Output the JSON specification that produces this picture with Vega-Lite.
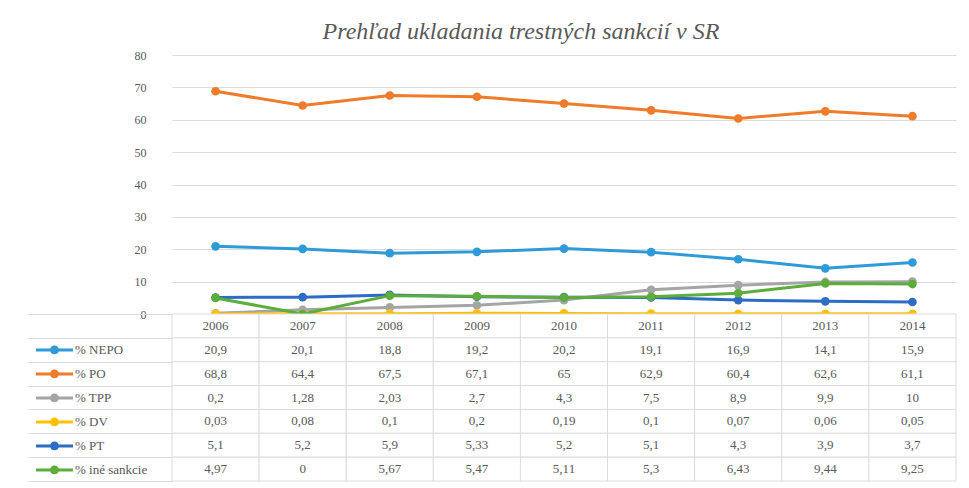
{
  "$schema": "https://vega.github.io/schema/vega-lite/v6.json",
  "padding": {"left": 27, "top": 20, "right": 10, "bottom": 5},
  "background": "white",
  "bounds": "flush",
  "spacing": 0,
  "config": {
    "locale": {"number": {"decimal": ",", "thousands": " ", "grouping": [3], "currency": ["", " €"]}},
    "view": {"stroke": null},
    "font": "Liberation Serif, Times New Roman, serif"
  },
  "datasets": {
    "d": [
      {"s": "% NEPO", "year": "2006", "v": 20.9}, {"s": "% NEPO", "year": "2007", "v": 20.1}, {"s": "% NEPO", "year": "2008", "v": 18.8},
      {"s": "% NEPO", "year": "2009", "v": 19.2}, {"s": "% NEPO", "year": "2010", "v": 20.2}, {"s": "% NEPO", "year": "2011", "v": 19.1},
      {"s": "% NEPO", "year": "2012", "v": 16.9}, {"s": "% NEPO", "year": "2013", "v": 14.1}, {"s": "% NEPO", "year": "2014", "v": 15.9},
      {"s": "% PO", "year": "2006", "v": 68.8}, {"s": "% PO", "year": "2007", "v": 64.4}, {"s": "% PO", "year": "2008", "v": 67.5},
      {"s": "% PO", "year": "2009", "v": 67.1}, {"s": "% PO", "year": "2010", "v": 65}, {"s": "% PO", "year": "2011", "v": 62.9},
      {"s": "% PO", "year": "2012", "v": 60.4}, {"s": "% PO", "year": "2013", "v": 62.6}, {"s": "% PO", "year": "2014", "v": 61.1},
      {"s": "% TPP", "year": "2006", "v": 0.2}, {"s": "% TPP", "year": "2007", "v": 1.28}, {"s": "% TPP", "year": "2008", "v": 2.03},
      {"s": "% TPP", "year": "2009", "v": 2.7}, {"s": "% TPP", "year": "2010", "v": 4.3}, {"s": "% TPP", "year": "2011", "v": 7.5},
      {"s": "% TPP", "year": "2012", "v": 8.9}, {"s": "% TPP", "year": "2013", "v": 9.9}, {"s": "% TPP", "year": "2014", "v": 10},
      {"s": "% DV", "year": "2006", "v": 0.03}, {"s": "% DV", "year": "2007", "v": 0.08}, {"s": "% DV", "year": "2008", "v": 0.1},
      {"s": "% DV", "year": "2009", "v": 0.2}, {"s": "% DV", "year": "2010", "v": 0.19}, {"s": "% DV", "year": "2011", "v": 0.1},
      {"s": "% DV", "year": "2012", "v": 0.07}, {"s": "% DV", "year": "2013", "v": 0.06}, {"s": "% DV", "year": "2014", "v": 0.05},
      {"s": "% PT", "year": "2006", "v": 5.1}, {"s": "% PT", "year": "2007", "v": 5.2}, {"s": "% PT", "year": "2008", "v": 5.9},
      {"s": "% PT", "year": "2009", "v": 5.33}, {"s": "% PT", "year": "2010", "v": 5.2}, {"s": "% PT", "year": "2011", "v": 5.1},
      {"s": "% PT", "year": "2012", "v": 4.3}, {"s": "% PT", "year": "2013", "v": 3.9}, {"s": "% PT", "year": "2014", "v": 3.7},
      {"s": "% iné sankcie", "year": "2006", "v": 4.97}, {"s": "% iné sankcie", "year": "2007", "v": 0}, {"s": "% iné sankcie", "year": "2008", "v": 5.67},
      {"s": "% iné sankcie", "year": "2009", "v": 5.47}, {"s": "% iné sankcie", "year": "2010", "v": 5.11}, {"s": "% iné sankcie", "year": "2011", "v": 5.3},
      {"s": "% iné sankcie", "year": "2012", "v": 6.43}, {"s": "% iné sankcie", "year": "2013", "v": 9.44}, {"s": "% iné sankcie", "year": "2014", "v": 9.25}
    ]
  },
  "resolve": {"scale": {"color": "independent"}, "legend": {"color": "independent"}},
  "vconcat": [
    {
      "width": 784,
      "height": 259,
      "title": {"text": "Prehľad ukladania trestných sankcií v SR", "font": "Liberation Serif, Times New Roman, serif", "fontStyle": "italic", "fontWeight": "normal", "fontSize": 24, "color": "#595959", "anchor": "middle", "dx": -43, "offset": 5},
      "data": {"name": "d"},
      "encoding": {
        "x": {"field": "year", "type": "ordinal", "axis": null},
        "y": {"field": "v", "type": "quantitative", "scale": {"domain": [0, 80], "nice": false},
              "axis": {"title": null, "values": [0, 10, 20, 30, 40, 50, 60, 70, 80], "domain": false, "ticks": false,
                       "grid": true, "gridColor": "#dcdcdc", "gridWidth": 1, "labelFont": "Liberation Serif, Times New Roman, serif", "labelFontSize": 12,
                       "labelColor": "#595959", "labelPadding": 26}},
        "color": {"field": "s", "type": "nominal",
                  "scale": {"domain": ["% NEPO", "% PO", "% TPP", "% DV", "% PT", "% iné sankcie"],
                            "range": ["#2f9ad8", "#ef7b2b", "#a5a5a5", "#ffc000", "#2d6cc4", "#5cad3a"]},
                  "legend": null}
      },
      "layer": [
        {"mark": {"type": "line", "strokeWidth": 3}},
        {"mark": {"type": "point", "filled": true, "size": 75, "opacity": 1}}
      ]
    },
    {
      "width": 784,
      "height": 167,
      "data": {"name": "d"},
      "encoding": {
        "x": {"field": "year", "type": "ordinal", "scale": {"type": "band", "paddingInner": 0, "paddingOuter": 0}, "axis": null},
        "y": {"field": "s", "type": "nominal",
              "scale": {"domain": ["hdr", "% NEPO", "% PO", "% TPP", "% DV", "% PT", "% iné sankcie"], "paddingInner": 0, "paddingOuter": 0},
              "axis": {"title": null, "labels": false, "domain": false, "ticks": true, "tickBand": "extent", "tickSize": 144,
                       "tickColor": "#dcdcdc", "tickWidth": 1, "grid": false}}
      },
      "layer": [
        {
          "transform": [{"filter": "datum.s === '% NEPO'"}],
          "mark": {"type": "rect", "fill": "white", "stroke": "#dcdcdc", "strokeWidth": 1},
          "encoding": {"y": {"datum": "hdr", "type": "nominal"}}
        },
        {
          "mark": {"type": "rect", "fill": "white", "stroke": "#dcdcdc", "strokeWidth": 1}
        },
        {
          "transform": [{"filter": "datum.s === '% NEPO'"}],
          "mark": {"type": "text", "font": "Liberation Serif, Times New Roman, serif", "fontSize": 13, "color": "#595959"},
          "encoding": {"y": {"datum": "hdr", "type": "nominal"}, "text": {"field": "year", "type": "nominal"}}
        },
        {
          "mark": {"type": "text", "font": "Liberation Serif, Times New Roman, serif", "fontSize": 13, "color": "#595959"},
          "encoding": {"text": {"field": "v", "type": "quantitative", "format": "~g"}}
        },
        {
          "mark": {"type": "point", "filled": true, "opacity": 0},
          "encoding": {
            "color": {"field": "s", "type": "nominal",
                      "scale": {"domain": ["hdr", "% NEPO", "% PO", "% TPP", "% DV", "% PT", "% iné sankcie"],
                                "range": ["rgba(0,0,0,0)", "#2f9ad8", "#ef7b2b", "#a5a5a5", "#ffc000", "#2d6cc4", "#5cad3a"]},
                      "legend": {"orient": "left", "offset": -121, "title": null, "padding": 0,
                                 "symbolType": "M-1,-0.08L1,-0.08L1,0.08L-1,0.08Z M0.24,0A0.24,0.24 0 1,1 -0.24,0A0.24,0.24 0 1,1 0.24,0Z",
                                 "symbolSize": 1369, "symbolStrokeWidth": 0, "symbolOpacity": 1,
                                 "clipHeight": 23.857, "rowPadding": 0, "labelOffset": 2,
                                 "labelFont": "Liberation Serif, Times New Roman, serif", "labelFontSize": 13, "labelColor": "#595959",
                                 "labelExpr": "datum.label === 'hdr' ? '' : datum.label",
                                 "encode": {"symbols": {"update": {"opacity": {"value": 1}, "strokeWidth": {"value": 0},
                                   "size": {"value": 1369},
                                   "shape": {"value": "M-1,-0.08L1,-0.08L1,0.08L-1,0.08Z M0.24,0A0.24,0.24 0 1,1 -0.24,0A0.24,0.24 0 1,1 0.24,0Z"}}}}}}
          }
        }
      ]
    }
  ]
}
